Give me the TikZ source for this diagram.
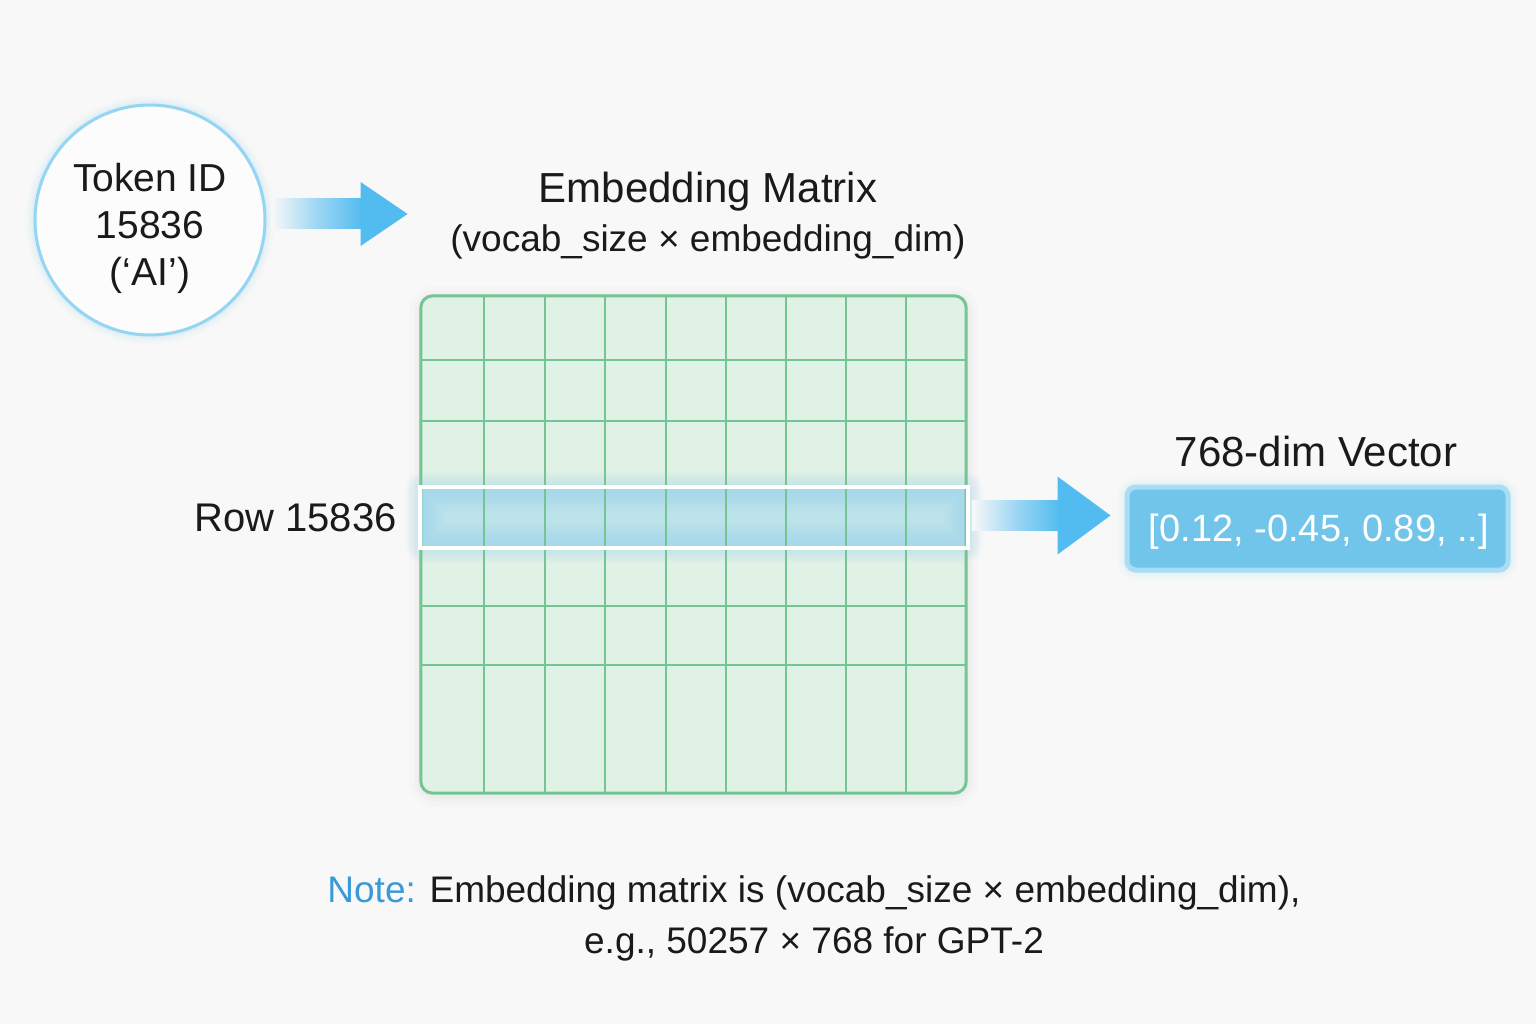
\documentclass[tikz,border=0pt]{standalone}
\usepackage{fontspec}
\setmainfont{Liberation Sans}
\usetikzlibrary{calc}
\definecolor{bg}{HTML}{F8F8F8}
\definecolor{ink}{HTML}{1A1A1A}
\definecolor{cblue}{HTML}{93D5F2}
\definecolor{ablue}{HTML}{52BBEF}
\definecolor{gfill}{HTML}{E0F1E6}
\definecolor{gline}{HTML}{74C593}
\definecolor{hfill}{HTML}{A0D8EC}
\definecolor{hlight}{HTML}{BCE2EA}
\definecolor{vfill}{HTML}{72C5EA}
\definecolor{vborder}{HTML}{A8DDF4}
\definecolor{noteblue}{HTML}{3A9AD6}
\tikzset{
  lbl/.style={inner sep=0pt, text=ink},
  fs/.style={font=\fontsize{#1}{#1}\selectfont},
  gridline/.style={draw=gline, line width=1.6pt},
  shaft/.style={left color=bg, right color=ablue, middle color=ablue!55!bg},
  head/.style={fill=ablue},
}
\begin{document}
\begin{tikzpicture}[x=1pt,y=-1pt]
\fill[bg] (0,0) rectangle (1536,1024);
\useasboundingbox (0,0) rectangle (1536,1024);

% ---- token circle
\foreach \w/\o in {18/0.05,12/0.07,7/0.10}
  \draw[cblue, line width=\w pt, opacity=\o] (150,220) circle (115);
\node[circle, minimum size=230pt, inner sep=0pt, draw=cblue, line width=3pt,
      fill=white!60!bg] (tok) at (150,220) {};
\node[lbl, align=center, font=\fontsize{39}{47}\selectfont] (toktext) at (150,228)
      {Token ID\\15836\\(‘AI’)};

% ---- title
\node[lbl, fs=42] (title) at (708,192) {Embedding Matrix};
\node[lbl, fs=37] (dims) at (708,242) {(vocab\_size × embedding\_dim)};

% ---- arrow 1
\coordinate (a1s) at ($(tok.east)+(5,-6)$);
\coordinate (a1t) at ($(title.west)+(-131,22)$);
\shade[shaft] ($(a1s)+(0,-15)$) rectangle ($(a1t)+(-45,15)$);
\fill[head] ($(a1t)+(-47,-32)$) -- (a1t) -- ($(a1t)+(-47,32)$) -- cycle;

% ---- matrix
\foreach \w/\o in {24/0.03,14/0.04,7/0.05}
  \draw[black!40, line width=\w pt, opacity=\o, rounded corners=14pt] (421,298) rectangle (966,795);
\node[draw=none, fill=gfill, rounded corners=12pt, minimum width=545pt,
      minimum height=497pt, inner sep=0pt] (mat) at (693.5,544.5) {};
% highlight glow and fill
\foreach \i in {1,...,10}
  \draw[hfill!75!ablue, line width=3*\i pt, opacity=0.035, rounded corners=4pt]
    (420,487) rectangle (968,548);
\node[fill=hlight, minimum width=548pt, minimum height=61pt,
      inner sep=0pt] (row) at (694,517.5) {};
\begin{scope}
  \clip (row.north west) rectangle (row.south east);
  \foreach \i in {1,...,14}
    \draw[hfill, line width=3.5*\i pt, opacity=0.08] (row.north west) rectangle (row.south east);
\end{scope}
% grid
\begin{scope}
  \clip[rounded corners=12pt] (mat.north west) rectangle (mat.south east);
  \foreach \x in {484,545,605,666,726,786,846,906}
    \draw[gridline] (\x,296) -- (\x,793);
  \foreach \y in {360,421,606,665}
    \draw[gridline] (421,\y) -- (966,\y);
\end{scope}
\draw[gline, line width=3pt, rounded corners=12pt] (mat.north west) rectangle (mat.south east);
\draw[white, line width=4.5pt] (row.north west) rectangle (row.south east);

\node[lbl, fs=40, anchor=east] (rowlab) at (397,518) {Row 15836};

% ---- vector
\node[lbl, fs=42] (veclab) at (1316,451) {768-dim Vector};
\foreach \w/\o in {20/0.05,14/0.08,9/0.12}
  \draw[vborder, line width=\w pt, opacity=\o, rounded corners=10pt]
    (1127,487) rectangle (1508,570);
\node[fill=vfill, draw=vborder, line width=5pt, rounded corners=9pt,
      minimum width=381pt, minimum height=83pt, inner sep=0pt] (vec) at (1317.5,528.5) {};
\node[inner sep=0pt, text=white, fs=38] (vectext) at (1319,532) {[0.12, -0.45, 0.89, ..]};

% ---- arrow 2
\coordinate (a2s) at ($(row.east)+(4,-2)$);
\coordinate (a2t) at ($(vec.west)+(-14,-13)$);
\shade[shaft] ($(a2s)+(0,-15)$) rectangle ($(a2t)+(-51,15)$);
\fill[head] ($(a2t)+(-53,-39)$) -- (a2t) -- ($(a2t)+(-53,39)$) -- cycle;

% ---- note
\node[lbl, align=center, font=\fontsize{37}{51}\selectfont] (note) at (814,918)
  {{\color{noteblue}Note:} Embedding matrix is (vocab\_size × embedding\_dim),\\
   e.g., 50257 × 768 for GPT-2};
\end{tikzpicture}
\end{document}
